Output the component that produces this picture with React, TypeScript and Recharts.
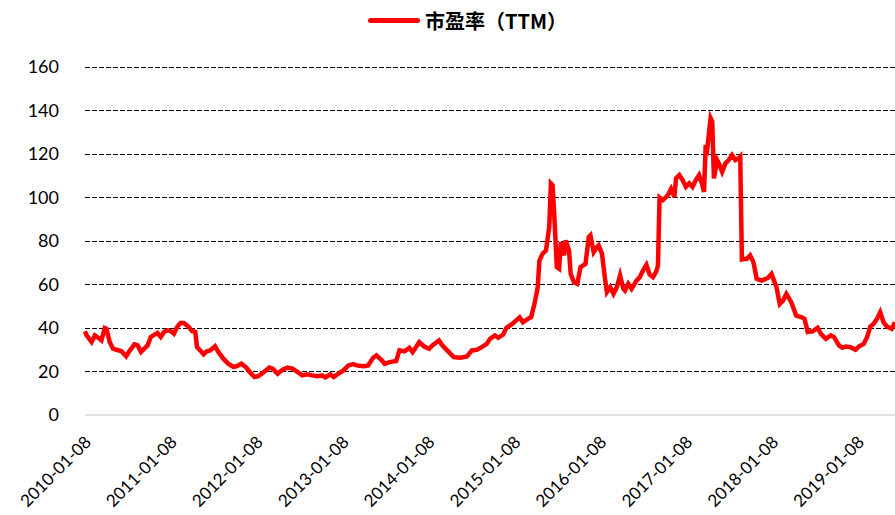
import { LineChart, Line, XAxis, YAxis, CartesianGrid } from 'recharts'

// weekly P/E (TTM) readings
const dates = [
  '2010-01-08', '2010-01-15', '2010-02-05', '2010-02-19', '2010-03-05', '2010-03-19', '2010-04-02', '2010-04-09',
  '2010-04-23', '2010-05-07', '2010-05-21', '2010-06-11', '2010-07-02', '2010-07-16', '2010-08-06', '2010-08-20',
  '2010-09-03', '2010-09-17', '2010-10-01', '2010-10-15', '2010-11-12', '2010-11-26', '2010-12-10', '2010-12-24',
  '2011-01-07', '2011-01-21', '2011-02-04', '2011-02-18', '2011-03-04', '2011-03-25', '2011-04-08', '2011-04-22',
  '2011-04-29', '2011-05-13', '2011-05-27', '2011-06-10', '2011-06-24', '2011-07-15', '2011-07-29', '2011-08-19',
  '2011-09-09', '2011-09-30', '2011-10-14', '2011-11-04', '2011-11-25', '2011-12-09', '2011-12-30', '2012-01-13',
  '2012-02-03', '2012-03-02', '2012-03-16', '2012-04-06', '2012-04-27', '2012-05-18', '2012-06-08', '2012-06-29',
  '2012-07-20', '2012-08-10', '2012-08-31', '2012-09-21', '2012-10-12', '2012-10-26', '2012-11-16', '2012-11-30',
  '2012-12-21', '2013-01-11', '2013-02-01', '2013-02-22', '2013-03-08', '2013-04-05', '2013-04-26', '2013-05-17',
  '2013-05-31', '2013-06-21', '2013-07-05', '2013-07-26', '2013-08-23', '2013-09-06', '2013-09-27', '2013-10-18',
  '2013-11-01', '2013-11-29', '2013-12-20', '2014-01-10', '2014-01-24', '2014-02-21', '2014-03-07', '2014-04-04',
  '2014-04-25', '2014-05-23', '2014-06-20', '2014-07-11', '2014-08-01', '2014-08-22', '2014-09-12', '2014-09-26',
  '2014-10-17', '2014-10-31', '2014-11-21', '2014-12-05', '2014-12-31', '2015-01-30', '2015-02-13', '2015-03-06',
  '2015-03-20', '2015-04-03', '2015-04-17', '2015-04-24', '2015-05-08', '2015-05-22', '2015-06-05', '2015-06-12',
  '2015-06-19', '2015-06-26', '2015-07-07', '2015-07-17', '2015-07-24', '2015-08-07', '2015-08-14', '2015-08-28',
  '2015-09-04', '2015-09-18', '2015-10-02', '2015-10-16', '2015-11-06', '2015-11-20', '2015-11-27', '2015-12-11',
  '2015-12-25', '2016-01-01', '2016-01-15', '2016-01-29', '2016-02-05', '2016-02-19', '2016-03-04', '2016-03-18',
  '2016-04-01', '2016-04-15', '2016-04-22', '2016-05-06', '2016-05-20', '2016-06-10', '2016-06-24', '2016-07-08',
  '2016-07-22', '2016-08-05', '2016-08-19', '2016-09-02', '2016-09-09', '2016-09-16', '2016-09-30', '2016-10-21',
  '2016-11-04', '2016-11-18', '2016-11-25', '2016-12-09', '2016-12-23', '2017-01-06', '2017-01-20', '2017-02-03',
  '2017-02-17', '2017-03-03', '2017-03-17', '2017-03-24', '2017-03-31', '2017-04-07', '2017-04-21', '2017-04-28',
  '2017-05-05', '2017-05-19', '2017-05-26', '2017-06-09', '2017-06-23', '2017-07-07', '2017-07-21', '2017-08-04',
  '2017-08-18', '2017-08-25', '2017-09-01', '2017-09-22', '2017-10-06', '2017-10-20', '2017-11-03', '2017-11-24',
  '2017-12-22', '2018-01-05', '2018-01-26', '2018-02-09', '2018-02-23', '2018-03-09', '2018-03-30', '2018-04-20',
  '2018-05-11', '2018-05-25', '2018-06-08', '2018-06-29', '2018-07-20', '2018-08-03', '2018-08-24', '2018-09-14',
  '2018-09-28', '2018-10-19', '2018-11-02', '2018-11-16', '2018-12-07', '2018-12-28', '2019-01-11', '2019-02-01',
  '2019-02-15', '2019-03-01', '2019-03-15', '2019-03-29', '2019-04-12', '2019-04-26', '2019-05-10', '2019-05-31',
  '2019-06-14',
]

const peTTM = [
  38.5, 36.6, 33.6, 36.6, 35.5, 34.3, 40, 39.7,
  33.6, 30.5, 30, 29.4, 27, 29.4, 32.5, 32,
  29, 30.5, 32, 35.9, 37.7, 35.9, 38.2, 38.9,
  38.6, 37.4, 40.5, 42.3, 42.3, 40.5, 38.6, 38.2,
  31.3, 29.7, 27.9, 29.3, 29.7, 31.6, 29, 25.9,
  23.6, 22.1, 22.4, 23.6, 21.8, 19.8, 17.5, 17.8,
  19.3, 21.8, 21.3, 19, 20.8, 21.8, 21.3, 19.8,
  18.2, 18.7, 18.2, 17.8, 18.2, 17.3, 18.7, 17.5,
  19, 20.5, 22.8, 23.4, 22.8, 22.4, 22.8, 26.3,
  27.4, 25.4, 23.5, 24.3, 24.8, 29.7, 29.3, 30.9,
  28.9, 33.5, 31.5, 30.4, 32, 34.3, 32, 28.9,
  26.6, 26.3, 26.9, 29.7, 30, 31.2, 32.7, 35,
  36.6, 35.5, 37, 40.1, 42, 44.9, 42.6, 44.2,
  45, 51, 58.8, 71, 74.2, 75.7, 86.5, 106.5,
  105.7, 92.6, 68, 67.2, 79.5, 73.4, 80.3, 75.7,
  64.9, 61, 60.3, 68, 69.5, 81.8, 82.6, 74.9,
  77.2, 78, 74.2, 61.8, 56.5, 58.8, 55.7, 58.8,
  64.2, 58, 57.2, 60.3, 58, 61.8, 63.4, 66.5,
  69, 64.5, 63.4, 66, 68.5, 100, 98.8, 101,
  104, 100.3, 108.8, 110.3, 108, 104.9, 106.5, 104.9,
  108, 110.3, 105.7, 102.6, 124.2, 122.6, 136.5, 134.9,
  108.8, 117.2, 115.7, 111.8, 115.7, 117.2, 119.5, 117.2,
  118, 118.8, 71.5, 71.8, 73.4, 70.3, 62.6, 61.8,
  63.1, 64.9, 58.8, 51.1, 52.6, 55.7, 51.9, 45.7,
  45, 44.2, 38.2, 38.5, 40.1, 37.3, 35, 36.6,
  35.8, 32, 30.9, 31.5, 31.2, 30, 31.5, 32.7,
  35.8, 40.7, 41.9, 44.2, 47.3, 42.7, 40.7, 39.6,
  42.7,
]

const xTickLabels = [
  '2010-01-08', '2011-01-08', '2012-01-08', '2013-01-08', '2014-01-08',
  '2015-01-08', '2016-01-08', '2017-01-08', '2018-01-08', '2019-01-08',
]
const yTicks = [0, 20, 40, 60, 80, 100, 120, 140, 160]
const seriesName = '市盈率（TTM）'

const data = dates.map((d, i) => ({ t: Date.parse(d), pe: peTTM[i] }))
const xTicks = xTickLabels.map((d) => Date.parse(d))
const fmtDate = (v: number) => new Date(v).toISOString().slice(0, 10)

function DateTick({ x, y, payload }: any) {
  return (
    <g transform={`translate(${x + 3},${y})`}>
      <text textAnchor="end" dy="0.35em" transform="rotate(-45)" fontSize={17} fontFamily="Lato" fill="#000">
        {fmtDate(payload.value)}
      </text>
    </g>
  )
}

export default function App() {
  return (
    <div style={{ position: 'absolute', left: 0, top: 0, width: 895, height: 515, background: '#fff', fontFamily: 'Lato' }}>
      <div style={{ position: 'absolute', left: 368, top: 6, display: 'flex', alignItems: 'center', zIndex: 2 }}>
        <div style={{ width: 52, height: 5, borderRadius: 3, background: '#ff0000' }} />
        <span style={{ marginLeft: 5, fontSize: 20, fontWeight: 700, fontFamily: '"Noto Sans CJK SC", sans-serif', color: '#000' }}>
          {seriesName}
        </span>
      </div>
      <LineChart width={895} height={515} data={data} margin={{ top: 67, right: 0, bottom: 0, left: 0 }}>
        <CartesianGrid
          vertical={false}
          horizontalValues={yTicks.filter((v) => v > 0)}
          stroke="#000"
          strokeDasharray="4.5 2.5"
          shapeRendering="crispEdges"
        />
        <XAxis
          dataKey="t"
          type="number"
          scale="time"
          domain={['dataMin', 'dataMax']}
          ticks={xTicks}
          tick={<DateTick />}
          tickLine={false}
          tickMargin={18}
          height={100}
          axisLine={{ stroke: '#d9d9d9', strokeWidth: 1.5 }}
          interval={0}
        />
        <YAxis
          domain={[0, 160]}
          ticks={yTicks}
          width={85}
          axisLine={false}
          tickLine={false}
          tickMargin={20}
          tick={{ fontSize: 18, fill: '#000', fontFamily: 'Lato' }}
        />
        <Line type="linear" dataKey="pe" name={seriesName} stroke="#ff0000" strokeWidth={4.5} dot={false} isAnimationActive={false} />
      </LineChart>
    </div>
  )
}
